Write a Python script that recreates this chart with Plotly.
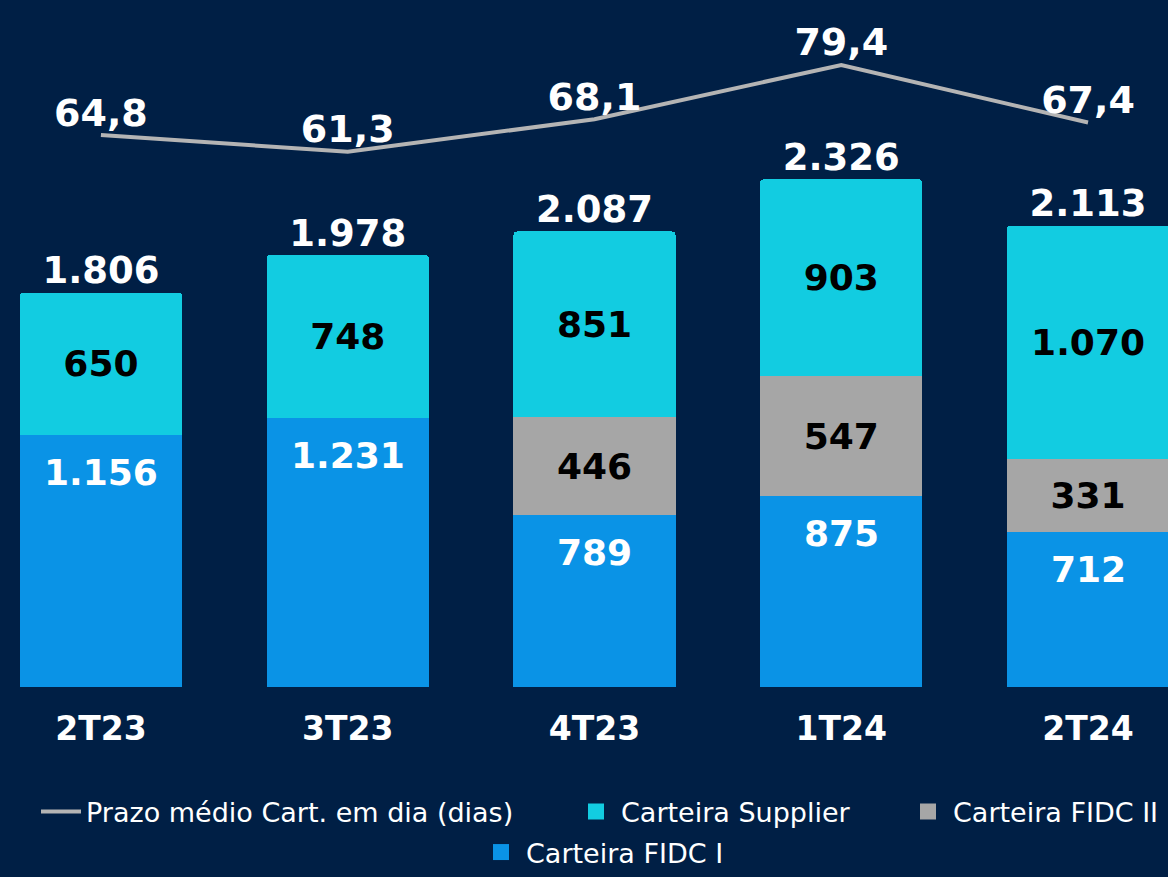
import plotly.graph_objects as go

categories = ["2T23", "3T23", "4T23", "1T24", "2T24"]
fidc1 = [1156, 1231, 789, 875, 712]
fidc2 = [None, None, 446, 547, 331]
supplier = [650, 748, 851, 903, 1070]
totals = [1806, 1978, 2087, 2326, 2113]
prazo = [64.8, 61.3, 68.1, 79.4, 67.4]

def br(v, dec=0):
    if v is None:
        return ""
    if dec:
        return f"{v:.{dec}f}".replace(".", ",")
    return f"{v:,}".replace(",", ".")

BG = "#001f45"
C_F1 = "#0a93e6"
C_F2 = "#a6a6a6"
C_SUP = "#12cce1"
C_LINE = "#b4b4b4"
FONT = "DejaVu Sans"
INNER = 36
W, H = 1168, 877
PLOT_BOTTOM = 687

fig = go.Figure()

# FIDC I (bottom)
fig.add_trace(go.Bar(x=categories, y=fidc1, name="Carteira FIDC I", marker_color=C_F1,
                     marker_line_width=0, hoverinfo="skip", showlegend=False))
# FIDC II
fig.add_trace(go.Bar(x=categories, y=fidc2, name="Carteira FIDC II", marker_color=C_F2,
                     marker_line_width=0, text=[br(v) for v in fidc2], textposition="inside",
                     insidetextanchor="middle",
                     textfont=dict(family=FONT, size=INNER, color="black", weight="bold"),
                     hoverinfo="skip", showlegend=False))
# Supplier
fig.add_trace(go.Bar(x=categories, y=supplier, name="Carteira Supplier", marker_color=C_SUP,
                     marker_line_width=0, text=[br(v) for v in supplier], textposition="inside",
                     insidetextanchor="middle",
                     textfont=dict(family=FONT, size=INNER, color="black", weight="bold"),
                     hoverinfo="skip", showlegend=False))

# Legend entries (squares) for the bar series
fig.add_trace(go.Scatter(x=[None], y=[None], mode="markers", name="Carteira FIDC I",
                         marker=dict(symbol="square", size=16, color=C_F1), legend="legend2"))
fig.add_trace(go.Scatter(x=[None], y=[None], mode="markers", name="Carteira FIDC II",
                         marker=dict(symbol="square", size=16, color=C_F2), legend="legend4"))
fig.add_trace(go.Scatter(x=[None], y=[None], mode="markers", name="Carteira Supplier",
                         marker=dict(symbol="square", size=16, color=C_SUP), legend="legend3"))

# Prazo line
fig.add_trace(go.Scatter(x=categories, y=prazo, name="Prazo médio Cart. em dia (dias)",
                         mode="lines+text", yaxis="y2", legend="legend",
                         line=dict(color=C_LINE, width=4),
                         text=[br(v, 1) for v in prazo], textposition="top center",
                         textfont=dict(family=FONT, size=38, color="white", weight="bold"),
                         hoverinfo="skip", cliponaxis=False))
# Totals
fig.add_trace(go.Scatter(x=categories, y=totals, mode="text", showlegend=False,
                         text=[br(v) for v in totals], textposition="top center",
                         textfont=dict(family=FONT, size=37, color="white", weight="bold"),
                         hoverinfo="skip", cliponaxis=False))

# FIDC I labels near top of segment
for c, v in zip(categories, fidc1):
    fig.add_annotation(x=c, y=v, text=br(v), showarrow=False, yanchor="top", yshift=-15,
                       font=dict(family=FONT, size=INNER, color="white", weight="bold"))

leg_font = dict(family=FONT, size=27, color="white")
row1 = 1 - 812 / H

def leg(xpx, y, yanchor="middle"):
    return dict(orientation="h", x=xpx / W, xanchor="left", y=y, yanchor=yanchor,
                itemwidth=40, font=leg_font, bgcolor="rgba(0,0,0,0)", borderwidth=0)

fig.update_layout(
    width=W, height=H,
    paper_bgcolor=BG, plot_bgcolor=BG,
    margin=dict(l=0, r=0, t=0, b=0),
    barmode="stack", bargap=0.343, barcornerradius=4,
    showlegend=True,
    legend=leg(36, row1),
    legend3=leg(571, row1),
    legend4=leg(903, row1),
    legend2=leg(476, 0, "bottom"),
    xaxis=dict(range=[-0.409, 4.324], showgrid=False, zeroline=False, showline=False,
               ticks="", ticklabelstandoff=19, automargin=False,
               tickfont=dict(family=FONT, size=33, color="white", weight="bold")),
    yaxis=dict(range=[0, 3146], domain=[1 - PLOT_BOTTOM / H, 1], visible=False,
               showgrid=False),
    yaxis2=dict(range=[-50.3, 92.95], overlaying="y", visible=False, showgrid=False),
)

fig.write_html("out.html", config={"displayModeBar": False},
               post_script="document.body.style.margin='0';document.body.style.overflow='hidden';")
